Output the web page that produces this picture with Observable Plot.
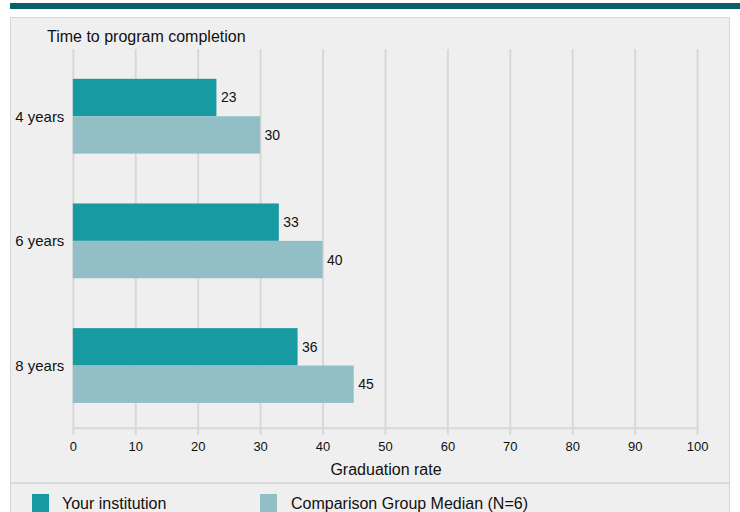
<!DOCTYPE html>
<html>
<head>
<meta charset="utf-8">
<script src="https://cdn.jsdelivr.net/npm/d3@7"></script>
<script src="https://cdn.jsdelivr.net/npm/@observablehq/plot@0.6"></script>
<style>
  html, body { margin: 0; padding: 0; background: #fff; width: 740px; height: 512px; overflow: hidden; font-family: "Liberation Sans", Arial, sans-serif; }
  #topbar { position: absolute; left: 10px; right: 0; top: 3px; height: 6px; background: #0b6168; }
  #panel { position: absolute; left: 10px; top: 17px; width: 720px; height: 520px; background: #efefef; border: 1px solid #d6d6d6; box-sizing: border-box; }
  #title { position: absolute; left: 36px; top: 10px; font-size: 16px; color: #111; line-height: 18px; }
  #chart { position: absolute; left: 0; top: 0; }
  #xlabel { position: absolute; left: 62px; width: 626px; top: 443px; text-align: center; font-size: 16px; line-height: 18px; color: #111; }
  #sep { position: absolute; left: 0; right: 0; top: 464px; height: 0; border-top: 2px solid #d9d9d9; }
  .leg { position: absolute; top: 477px; font-size: 16px; line-height: 18px; color: #111; }
  .sw { position: absolute; top: 476px; width: 17px; height: 20px; }
</style>
</head>
<body>
<div id="topbar"></div>
<div id="panel">
  <div id="title">Time to program completion</div>
  <div id="chart"></div>
  <div id="xlabel">Graduation rate</div>
  <div id="sep"></div>
  <div class="sw" id="sw1" style="left:21px;"></div>
  <div class="leg" id="lg1" style="left:51px;"></div>
  <div class="sw" id="sw2" style="left:249px;"></div>
  <div class="leg" id="lg2" style="left:280px;"></div>
</div>
<script>
const categories = ["4 years", "6 years", "8 years"];
const seriesNames = ["Your institution", "Comparison Group Median (N=6)"];
const yourValues = [23, 33, 36];
const comparisonValues = [30, 40, 45];
const xTicks = [0, 10, 20, 30, 40, 50, 60, 70, 80, 90, 100];
const colors = ["#179aa1", "#92bfc5"];

const your = categories.map((c, i) => ({category: c, value: yourValues[i]}));
const comp = categories.map((c, i) => ({category: c, value: comparisonValues[i]}));

document.getElementById("sw1").style.background = colors[0];
document.getElementById("sw2").style.background = colors[1];
document.getElementById("lg1").textContent = seriesNames[0];
document.getElementById("lg2").textContent = seriesNames[1];

const half = 37.5;
const chart = Plot.plot({
  width: 720,
  height: 464,
  marginLeft: 62,
  marginRight: 32,
  marginTop: 31,
  marginBottom: 53,
  style: {background: "transparent", fontFamily: "Liberation Sans, Arial, sans-serif", fontSize: "13px", color: "#111"},
  x: {domain: [0, 100]},
  y: {domain: categories, paddingInner: 0.4, paddingOuter: 0.22, align: 0.55},
  marks: [
    Plot.ruleX(xTicks, {stroke: "#d8d8d8", strokeWidth: 2}),
    Plot.frame({anchor: "bottom", stroke: "#d8d8d8", strokeWidth: 2}),
    Plot.axisX(xTicks, {tickSize: 7, stroke: "#d8d8d8", strokeWidth: 2, tickPadding: 6, fontSize: 13, fill: "#111", label: null}),
    Plot.axisY({tickSize: 0, tickPadding: 9, fontSize: 15, fill: "#111", label: null}),
    Plot.barX(your, {x: "value", y: "category", fill: colors[0], insetBottom: half}),
    Plot.barX(comp, {x: "value", y: "category", fill: colors[1], insetTop: half}),
    Plot.text(your, {x: "value", y: "category", text: d => String(d.value), dx: 4, dy: -18.75, textAnchor: "start", fontSize: 14, fill: "#111"}),
    Plot.text(comp, {x: "value", y: "category", text: d => String(d.value), dx: 4, dy: 18.75, textAnchor: "start", fontSize: 14, fill: "#111"})
  ]
});
document.getElementById("chart").appendChild(chart);
</script>
</body>
</html>
